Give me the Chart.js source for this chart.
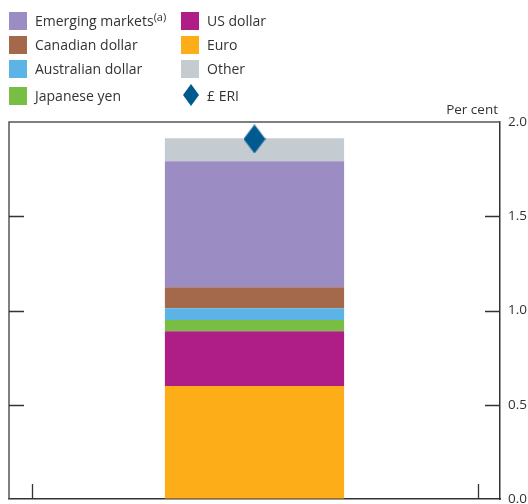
<!DOCTYPE html>
<html>
<head>
<meta charset="utf-8">
<script src="https://cdn.jsdelivr.net/npm/chart.js@4"></script>
<style>
  html, body { margin: 0; padding: 0; background: #fff; }
  #wrap { position: relative; width: 528px; height: 504px; }
  #legend { position: absolute; left: 0; top: 0; width: 528px; height: 110px;
    font-family: "Open Sans", sans-serif; font-size: 14px; color: #333; }
  .li { position: absolute; height: 20px; line-height: 20px; white-space: nowrap; }
  .li .sw { position: absolute; left: 0; top: 1px; width: 18px; height: 18px; }
  .li .tx { position: absolute; left: 26px; top: 0; }
  .li sup { font-size: 11px; vertical-align: 5px; line-height: 0; }
</style>
</head>
<body>
<div id="wrap">
  <canvas id="c" width="528" height="504"></canvas>
  <div id="legend"></div>
</div>
<script>
  // Contributions to the £ ERI move, per cent (stacked from the bottom)
  const categories = [''];
  const seriesNames = ['Euro', 'US dollar', 'Japanese yen', 'Australian dollar', 'Canadian dollar', 'Emerging markets', 'Other'];
  const seriesValues = [0.60, 0.29, 0.06, 0.062, 0.112, 0.668, 0.122];
  const seriesColors = ['#FDAD18', '#AF1E87', '#78BE43', '#5BB4E5', '#A4694A', '#9B8DC3', '#C4CBD1'];
  const eriName = '£ ERI';
  const eriValues = [1.91];
  const eriColor = '#005A8F';
  const yTicks = [0, 0.5, 1.0, 1.5, 2.0];
  // legend layout: two columns, top to bottom
  const legendCols = [
    ['Emerging markets', 'Canadian dollar', 'Australian dollar', 'Japanese yen'],
    ['US dollar', 'Euro', 'Other', '£ ERI']
  ];
  const footnotes = { 'Emerging markets': '(a)' };

  // diamond marker for the ERI
  function diamond(w, h, color) {
    const cv = document.createElement('canvas');
    cv.width = w; cv.height = h;
    const g = cv.getContext('2d');
    g.fillStyle = color;
    g.beginPath();
    g.moveTo(w / 2, 0); g.lineTo(w, h / 2); g.lineTo(w / 2, h); g.lineTo(0, h / 2);
    g.closePath(); g.fill();
    return cv;
  }
  const eriMarker = diamond(22, 29, eriColor);

  const datasets = seriesNames.map((n, i) => ({
    type: 'bar', label: n, data: [seriesValues[i]], backgroundColor: seriesColors[i],
    borderWidth: 0, order: 1, barPercentage: 0.365, categoryPercentage: 1
  }));
  datasets.push({
    type: 'line', label: eriName, data: eriValues, stack: 'eri', order: 0,
    showLine: false, pointStyle: eriMarker, pointRadius: 14, pointHoverRadius: 14
  });

  // HTML legend
  const leg = document.getElementById('legend');
  const colX = [9, 181];
  const rowY = [11, 35, 59, 86];
  legendCols.forEach((col, ci) => col.forEach((name, ri) => {
    const d = document.createElement('div');
    d.className = 'li';
    d.style.left = colX[ci] + 'px';
    d.style.top = rowY[ri] + 'px';
    let sw;
    if (name === eriName) {
      sw = '<span class="sw" style="top:-2px;left:2px;width:16px;height:22px;background:' + eriColor +
        ';clip-path:polygon(50% 0,100% 50%,50% 100%,0 50%)"></span>';
    } else {
      sw = '<span class="sw" style="background:' + seriesColors[seriesNames.indexOf(name)] + '"></span>';
    }
    const fn = footnotes[name] ? '<sup>' + footnotes[name] + '</sup>' : '';
    d.innerHTML = sw + '<span class="tx">' + name + fn + '</span>';
    leg.appendChild(d);
  }));

  const AXIS = '#555';
  const framePlugin = {
    id: 'frame',
    afterDatasetsDraw(chart) {
      const { ctx, chartArea: a, scales } = chart;
      const y = scales.y;
      ctx.save();
      ctx.strokeStyle = AXIS;
      ctx.lineWidth = 1.5;
      ctx.beginPath();
      ctx.moveTo(a.left, a.bottom); ctx.lineTo(a.left, a.top); ctx.lineTo(a.right, a.top);
      ctx.stroke();
      ctx.strokeStyle = '#333';
      ctx.lineWidth = 1.3;
      ctx.beginPath();
      yTicks.forEach(v => {
        if (v === 0 || v === 2) return;
        const py = Math.round(y.getPixelForValue(v)) + 0.5;
        ctx.moveTo(a.left, py); ctx.lineTo(a.left + 15, py);
        ctx.moveTo(a.right, py); ctx.lineTo(a.right - 15, py);
      });
      // small ticks on the base line
      [0.047, 0.955].forEach(f => {
        const px = Math.round(a.left + f * (a.right - a.left)) + 0.5;
        ctx.moveTo(px, a.bottom); ctx.lineTo(px, a.bottom - 15);
      });
      ctx.stroke();
      ctx.fillStyle = '#333';
      ctx.font = '13.5px "Open Sans", sans-serif';
      ctx.textAlign = 'right';
      ctx.textBaseline = 'bottom';
      ctx.fillText('Per cent', a.right - 2, a.top - 5);
      ctx.restore();
    }
  };

  function noPad(s) {
    s.paddingTop = 0; s.paddingBottom = 0; s.paddingLeft = 0; s.paddingRight = 0;
  }

  new Chart(document.getElementById('c'), {
    data: { labels: categories, datasets },
    options: {
      responsive: false,
      animation: false,
      layout: { autoPadding: false, padding: { left: 9, top: 122, right: 0, bottom: 5 } },
      plugins: { legend: { display: false }, tooltip: { enabled: false } },
      scales: {
        x: {
          stacked: true,
          grid: { display: false },
          border: { display: true, color: '#333', width: 1.5 },
          ticks: { display: false },
          afterFit(s) { s.height = 0; noPad(s); }
        },
        y: {
          stacked: true,
          position: 'right',
          min: 0, max: 2,
          afterBuildTicks(s) { s.ticks = yTicks.map(v => ({ value: v })); },
          ticks: {
            padding: 8, color: '#333',
            font: { family: '"Open Sans", sans-serif', size: 13.5 },
            callback: v => v.toFixed(1)
          },
          grid: { drawOnChartArea: false, drawTicks: false },
          border: { display: true, color: '#333', width: 1.5 },
          afterFit(s) { s.width = 28; noPad(s); }
        }
      }
    },
    plugins: [framePlugin]
  });
</script>
</body>
</html>
